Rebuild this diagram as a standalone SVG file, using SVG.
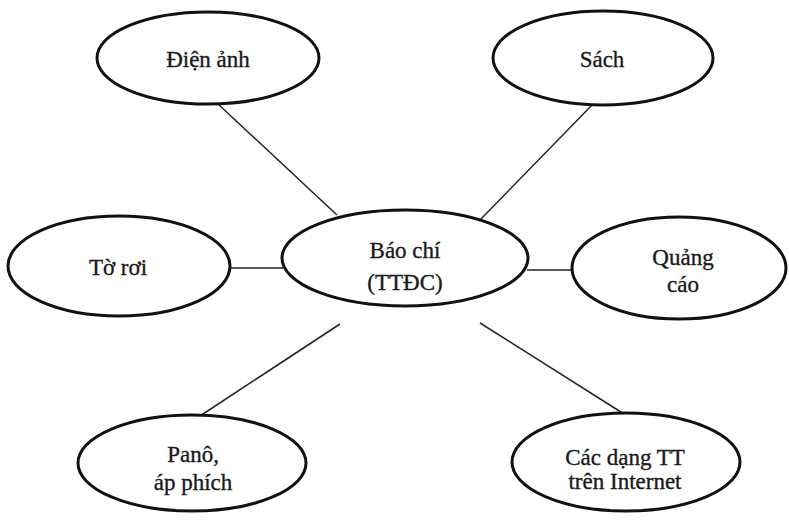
<svg xmlns="http://www.w3.org/2000/svg" width="789" height="520" viewBox="0 0 789 520">
<style>
.n{fill:#fff;stroke:#111;stroke-width:3}
.t{font-family:"Liberation Serif","DejaVu Serif",serif;font-size:23px;fill:#1a1a1a;stroke:#1a1a1a;stroke-width:0.35;text-anchor:middle}
.c line{stroke:#222;stroke-width:1.5}
</style>
<rect width="789" height="520" fill="#fff"/>
<g class="c" id="connectors">
<line x1="218" y1="104" x2="337" y2="215"/>
<line x1="593" y1="104" x2="480" y2="220"/>
<line x1="229" y1="268" x2="283" y2="268"/>
<line x1="527" y1="270" x2="573" y2="270"/>
<line x1="200" y1="416" x2="340" y2="324"/>
<line x1="624" y1="414" x2="480" y2="323"/>
</g>
<g id="center"><ellipse class="n" cx="405" cy="258" rx="123" ry="48"/><text class="t" x="405" y="258">Báo chí</text><text class="t" x="405" y="290">(TTĐC)</text></g>
<g id="dien-anh"><ellipse class="n" cx="208" cy="58" rx="111" ry="46"/><text class="t" x="208" y="67">Điện ảnh</text></g>
<g id="sach"><ellipse class="n" cx="603" cy="58" rx="110" ry="47"/><text class="t" x="602" y="67">Sách</text></g>
<g id="to-roi"><ellipse class="n" cx="119" cy="266" rx="111" ry="50"/><text class="t" x="118" y="275">Tờ rơi</text></g>
<g id="quang-cao"><ellipse class="n" cx="679" cy="268" rx="107" ry="51"/><text class="t" x="683" y="265">Quảng</text><text class="t" x="683" y="292">cáo</text></g>
<g id="pano"><ellipse class="n" cx="192" cy="463" rx="114" ry="48"/><text class="t" x="193" y="462">Panô,</text><text class="t" x="193" y="490">áp phích</text></g>
<g id="internet"><ellipse class="n" cx="626" cy="462" rx="114" ry="49"/><text class="t" x="625" y="465">Các dạng TT</text><text class="t" x="625" y="489">trên Internet</text></g>
</svg>
